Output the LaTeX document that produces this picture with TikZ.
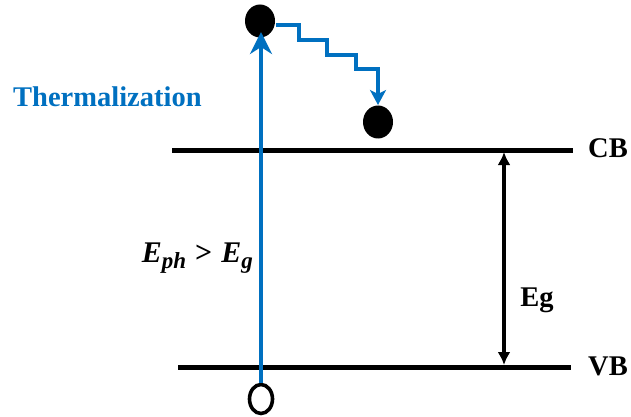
\documentclass[tikz,border=0pt]{standalone}
\usepackage{fontspec}
\setmainfont{Liberation Serif}
\usetikzlibrary{arrows.meta,shapes.geometric}
\definecolor{tblue}{RGB}{0,112,192}
\begin{document}
\begin{tikzpicture}[x=1pt,y=-1pt,
  band/.style={line width=5pt},
  bluearr/.style={tblue,line width=3.6pt,-{Stealth[length=22pt,width=22pt,inset=7pt]}},
  electron/.style={ellipse,fill=black,minimum width=30pt,minimum height=33pt,inner sep=0pt},
  hole/.style={ellipse,draw=black,line width=3.6pt,fill=white,minimum width=23pt,minimum height=29pt,inner sep=0pt},
  lbl/.style={font=\fontsize{28.5}{30}\selectfont\bfseries,inner sep=0pt}]
\useasboundingbox (0,0) rectangle (631,417);
% bands
\coordinate (cbL) at (172,150); \coordinate (cbR) at (573,150);
\coordinate (vbL) at (178,367); \coordinate (vbR) at (571,367);
\draw[band] (cbL) -- (cbR);
\draw[band] (vbL) -- (vbR);
\node[lbl,anchor=west] (cb) at (588,148) {CB};
\node[lbl,anchor=west] (vb) at (588,366) {VB};
% Eg arrow
\coordinate (egT) at (504,152); \coordinate (egB) at (504,365);
\draw[line width=3.6pt,{Latex[length=13pt,width=13pt]}-{Latex[length=13pt,width=13pt]}] (egT) -- (egB);
\node[lbl] (eg) at (537,300) {Eg};
% carriers
\node[electron] (e1) at (260,21) {};
\node[electron] (e2) at (378,122) {};
\node[hole] (h) at (261,399) {};
% excitation
\draw[bluearr] (h.north) -- (261,32);
% thermalization staircase
\coordinate (z0) at (276,25);
\draw[tblue,line width=3.6pt,-{Stealth[length=15pt,width=16pt,inset=4pt]}]
  (z0) -- (299,25) -- (299,40) -- (327,40) -- (327,55) -- (356,55) -- (356,69) -- (378,69) -- (378,105);
\node[lbl,text=tblue,anchor=west] (th) at (13,97) {Thermalization};
% photon energy label
\node[inner sep=0pt,anchor=east,font=\fontsize{30}{32}\selectfont\bfseries\itshape] (eph) at (253,258)
  {E\raisebox{-0.4ex}{\fontsize{23}{24}\selectfont ph}\hspace{0.3em}\upshape>\hspace{0.3em}\itshape E\raisebox{-0.4ex}{\fontsize{23}{24}\selectfont g}};
\end{tikzpicture}
\end{document}
